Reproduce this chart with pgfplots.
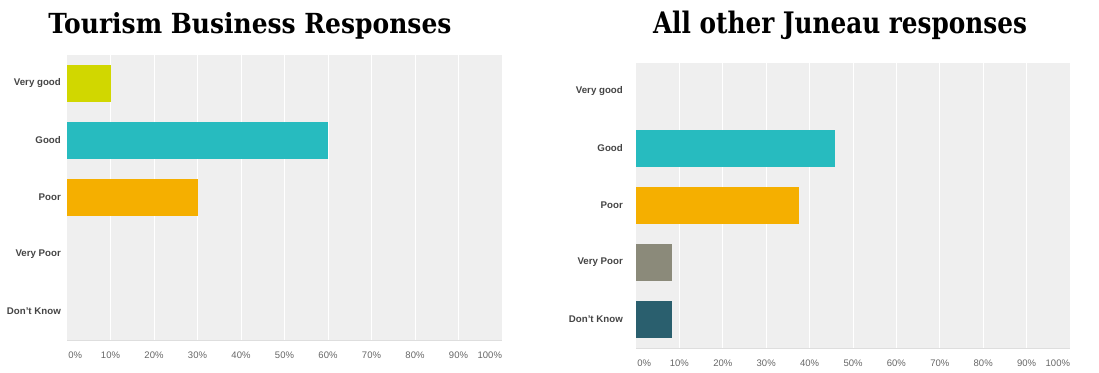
\documentclass[border=0pt]{standalone}
\usepackage{pgfplots}
\pgfplotsset{compat=1.18}
\usepackage{fontspec}
\setmainfont{Liberation Sans}
\newfontfamily\titlefont{DejaVu Serif}
\definecolor{cVG}{HTML}{D1D700}
\definecolor{cG}{HTML}{27BBBF}
\definecolor{cP}{HTML}{F5AF00}
\definecolor{cVP}{HTML}{8B8A7A}
\definecolor{cDK}{HTML}{2A5F6E}
\definecolor{bg}{HTML}{EFEFEF}
\definecolor{lab}{HTML}{444444}
\definecolor{tlab}{HTML}{666666}
\pgfplotsset{
  survey/.style={
    scale only axis,
    anchor=south west,
    width=435pt, height=285pt,
    xmin=0, xmax=100,
    ymin=-0.5, ymax=4.5,
    y dir=reverse,
    xbar, bar width=37pt, bar shift=0pt,
    axis background/.style={fill=bg},
    ytick={0,1,2,3,4},
    yticklabels={Very good,Good,Poor,Very Poor,Don't Know},
    yticklabel style={font=\fontsize{9.7}{10}\selectfont\bfseries, text=lab, inner sep=0pt, xshift=-6pt},
    xtick={1.9,10,20,30,40,50,60,70,80,90,97.2},
    xticklabels={0\%,10\%,20\%,30\%,40\%,50\%,60\%,70\%,80\%,90\%,100\%},
    xticklabel style={font=\fontsize{9.5}{10}\selectfont, text=tlab, inner sep=0pt, yshift=-12pt},
    minor xtick={10,20,30,40,50,60,70,80,90},
    xminorgrids=true, xmajorgrids=false, ymajorgrids=false,
    minor grid style={white, line width=1pt},
    major tick length=0pt, minor tick length=0pt,
    tick style={draw=none},
    axis x line*=bottom, axis y line*=left,
    x axis line style={draw=black!13, line width=1pt, -},
    y axis line style={draw=none},
    every axis plot/.append style={draw=none, bar shift=0pt},
    clip=false,
  }
}
\begin{document}
\begin{tikzpicture}
\path[use as bounding box] (0pt,0pt) rectangle (1099pt,-372pt);
\node[anchor=base, inner sep=0pt] at (250pt,-33pt) {\resizebox{403pt}{21pt}{\titlefont\fontsize{30}{36}\selectfont\bfseries Tourism Business Responses}};
\node[anchor=base, inner sep=0pt] at (840pt,-33pt) {\resizebox{374pt}{22.5pt}{\titlefont\fontsize{30}{36}\selectfont\bfseries All other Juneau responses}};
\begin{axis}[survey, at={(67pt,-340pt)}]
\addplot[fill=cVG] coordinates {(10,0)};
\addplot[fill=cG] coordinates {(60,1)};
\addplot[fill=cP] coordinates {(30,2)};
\end{axis}
\begin{axis}[survey, at={(636pt,-348pt)}, width=434pt, yticklabel style={xshift=-7pt}]
\addplot[fill=cG] coordinates {(45.8,1)};
\addplot[fill=cP] coordinates {(37.5,2)};
\addplot[fill=cVP] coordinates {(8.3,3)};
\addplot[fill=cDK] coordinates {(8.3,4)};
\end{axis}
\end{tikzpicture}
\end{document}
